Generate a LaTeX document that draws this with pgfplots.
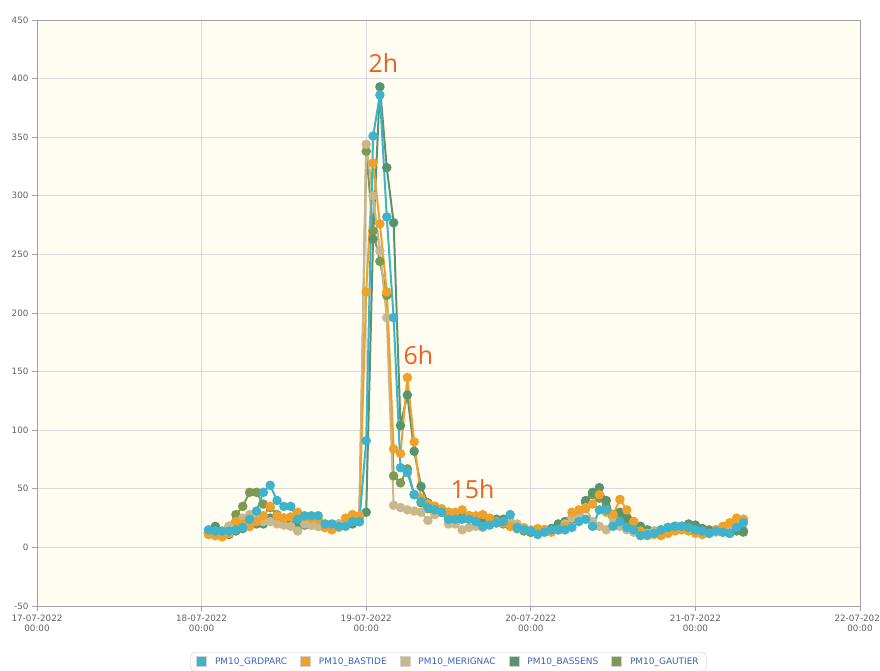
\documentclass[border=0pt]{standalone}
\usepackage{fontspec}
\setmainfont{DejaVu Sans}
\newfontfamily\annfont{Open Sans}
\usepackage{pgfplots}
\usepackage{pgfplotstable}
\pgfplotsset{compat=1.18}
\definecolor{cGRD}{HTML}{3FB2CC}
\definecolor{cBAS}{HTML}{F0A12A}
\definecolor{cMER}{HTML}{C9B88C}
\definecolor{cBSS}{HTML}{58946E}
\definecolor{cGAU}{HTML}{7E9A52}
\definecolor{bgcream}{HTML}{FFFCF2}
\definecolor{gridgray}{HTML}{D9D9D9}
\definecolor{axisgray}{HTML}{A0A0A0}
\definecolor{ticktext}{HTML}{606060}
\definecolor{annot}{HTML}{E8641E}
\definecolor{legblue}{HTML}{3A64B0}
\pgfplotstableread{
h grd bas mer bss gau
25 15 11 12 13 12
26 14 10 11 18 11
27 14 9 13 12 10
28 14 12 18 11 18
29 15 22 20 14 28
30 17 20 25 16 35
31 24 18 28 18 47
32 31 22 24 20 47
33 47 27 22 20 37
34 53 35 22 25 34
35 40 27 20 21 28
36 35 25 19 22 25
37 35 26 18 20 23
38 24 30 14 19 22
39 27 26 20 19 20
40 27 25 19 19 20
41 27 24 18 18 19
42 20 17 20 18 17
43 20 15 19 17 18
44 18 17 20 18 20
45 18 25 21 20 22
46 22 28 22 20 24
47 22 27 24 22 25
48 91 218 344 30 338
49 351 328 300 263 270
50 386 276 253 393 244
51 282 218 196 324 215
52 196 84 36 277 61
53 68 80 34 104 55
54 64 145 32 130 67
55 45 90 31 82 45
56 39 42 30 52 38
57 34 37 23 38 33
58 32 35 28 35 30
59 30 33 30 31 30
60 24 30 20 30 28
61 24 30 20 28 26
62 24 32 15 28 28
63 24 27 17 27 26
64 22 27 18 26 25
65 18 28 17 22 23
66 19 25 20 24 22
67 21 22 21 24 21
68 22 21 22 24 20
69 28 18 21 20 18
70 17 17 20 18 16
71 15 16 17 15 14
72 14 14 15 13 13
73 11 16 15 12 14
74 13 15 13 15 15
75 15 13 14 16 16
76 15 15 15 20 19
77 15 18 20 22 22
78 17 30 25 24 25
79 22 32 28 28 30
80 24 33 34 40 38
81 18 37 22 47 45
82 32 45 18 51 42
83 32 30 15 40 35
84 18 28 25 28 28
85 22 41 18 30 25
86 17 32 15 25 22
87 15 22 13 22 18
88 10 14 12 18 15
89 11 10 12 15 14
90 12 11 14 14 13
91 15 10 13 15 14
92 17 12 15 17 16
93 18 14 16 18 17
94 18 15 17 18 18
95 17 14 15 20 19
96 15 12 14 19 18
97 14 11 12 16 16
98 12 12 12 14 15
99 14 15 13 15 14
100 13 18 15 14 13
101 12 21 19 13 12
102 17 25 22 15 14
103 21 24 24 14 13
}\datatable
\begin{document}
\begin{tikzpicture}
\begin{axis}[
  name=ax, at={(0,0)}, anchor=south west,
  scale only axis, width=823bp, height=586bp,
  xmin=0, xmax=120, ymin=-50, ymax=450,
  xtick={0,24,48,72,96,120},
  xticklabels={{17-07-2022\\00:00},{18-07-2022\\00:00},{19-07-2022\\00:00},{20-07-2022\\00:00},{21-07-2022\\00:00},{22-07-2022\\00:00}},
  xticklabel style={align=center, font=\fontsize{8.8}{10.5}\selectfont, text=ticktext},
  ytick={-50,0,50,100,150,200,250,300,350,400,450},
  yticklabel style={font=\fontsize{8.8}{10.5}\selectfont, text=ticktext},
  /pgf/number format/assume math mode=true,
  grid=major, major grid style={draw=gridgray, line width=0.8bp},
  axis background/.style={fill=bgcream},
  axis line style={draw=axisgray, line width=0.8bp},
  tick style={draw=axisgray, line width=0.8bp},
  tick align=outside, major tick length=5bp, tick pos=left,
  legend columns=5,
  legend style={at={(0.5,-0.0785)}, anchor=north, draw=gray!40, rounded corners=5bp, fill=white,
    font=\fontsize{9}{10}\selectfont, text=legblue, inner xsep=6bp, inner ysep=3.5bp,
    /tikz/every odd column/.append style={column sep=6bp},
    /tikz/every even column/.append style={column sep=11bp}},
  every axis plot/.append style={line width=2bp, mark=*, mark size=3.7bp, mark options={solid}},
]
\addplot[color=cGAU, forget plot] table[x=h, y=gau] {\datatable};
\addplot[color=cBSS, forget plot] table[x=h, y=bss] {\datatable};
\addplot[color=cMER, forget plot] table[x=h, y=mer] {\datatable};
\addplot[color=cBAS, forget plot] table[x=h, y=bas] {\datatable};
\addplot[color=cGRD, forget plot] table[x=h, y=grd] {\datatable};
\addlegendimage{legend image code/.code={\path[sharp corners, draw=gray!35, fill=cGRD, line width=0.8bp] (0bp,-5bp) rectangle (10bp,5bp);}}
\addlegendentry{PM10\_GRDPARC}
\addlegendimage{legend image code/.code={\path[sharp corners, draw=gray!35, fill=cBAS, line width=0.8bp] (0bp,-5bp) rectangle (10bp,5bp);}}
\addlegendentry{PM10\_BASTIDE}
\addlegendimage{legend image code/.code={\path[sharp corners, draw=gray!35, fill=cMER, line width=0.8bp] (0bp,-5bp) rectangle (10bp,5bp);}}
\addlegendentry{PM10\_MERIGNAC}
\addlegendimage{legend image code/.code={\path[sharp corners, draw=gray!35, fill=cBSS, line width=0.8bp] (0bp,-5bp) rectangle (10bp,5bp);}}
\addlegendentry{PM10\_BASSENS}
\addlegendimage{legend image code/.code={\path[sharp corners, draw=gray!35, fill=cGAU, line width=0.8bp] (0bp,-5bp) rectangle (10bp,5bp);}}
\addlegendentry{PM10\_GAUTIER}
\node[text=annot, font=\annfont\fontsize{25}{25}\selectfont] at (axis cs:50.5,413) {2h};
\node[text=annot, font=\annfont\fontsize{25}{25}\selectfont] at (axis cs:55.6,164) {6h};
\node[text=annot, font=\annfont\fontsize{25}{25}\selectfont] at (axis cs:63.5,49.5) {15h};
\end{axis}
\draw[axisgray, line width=0.8bp] (ax.south west) rectangle (ax.north east);
\pgfresetboundingbox
\path[use as bounding box] ([xshift=-37bp,yshift=-65bp]ax.south west) rectangle ([xshift=20bp,yshift=20bp]ax.north east);
\end{tikzpicture}
\end{document}
